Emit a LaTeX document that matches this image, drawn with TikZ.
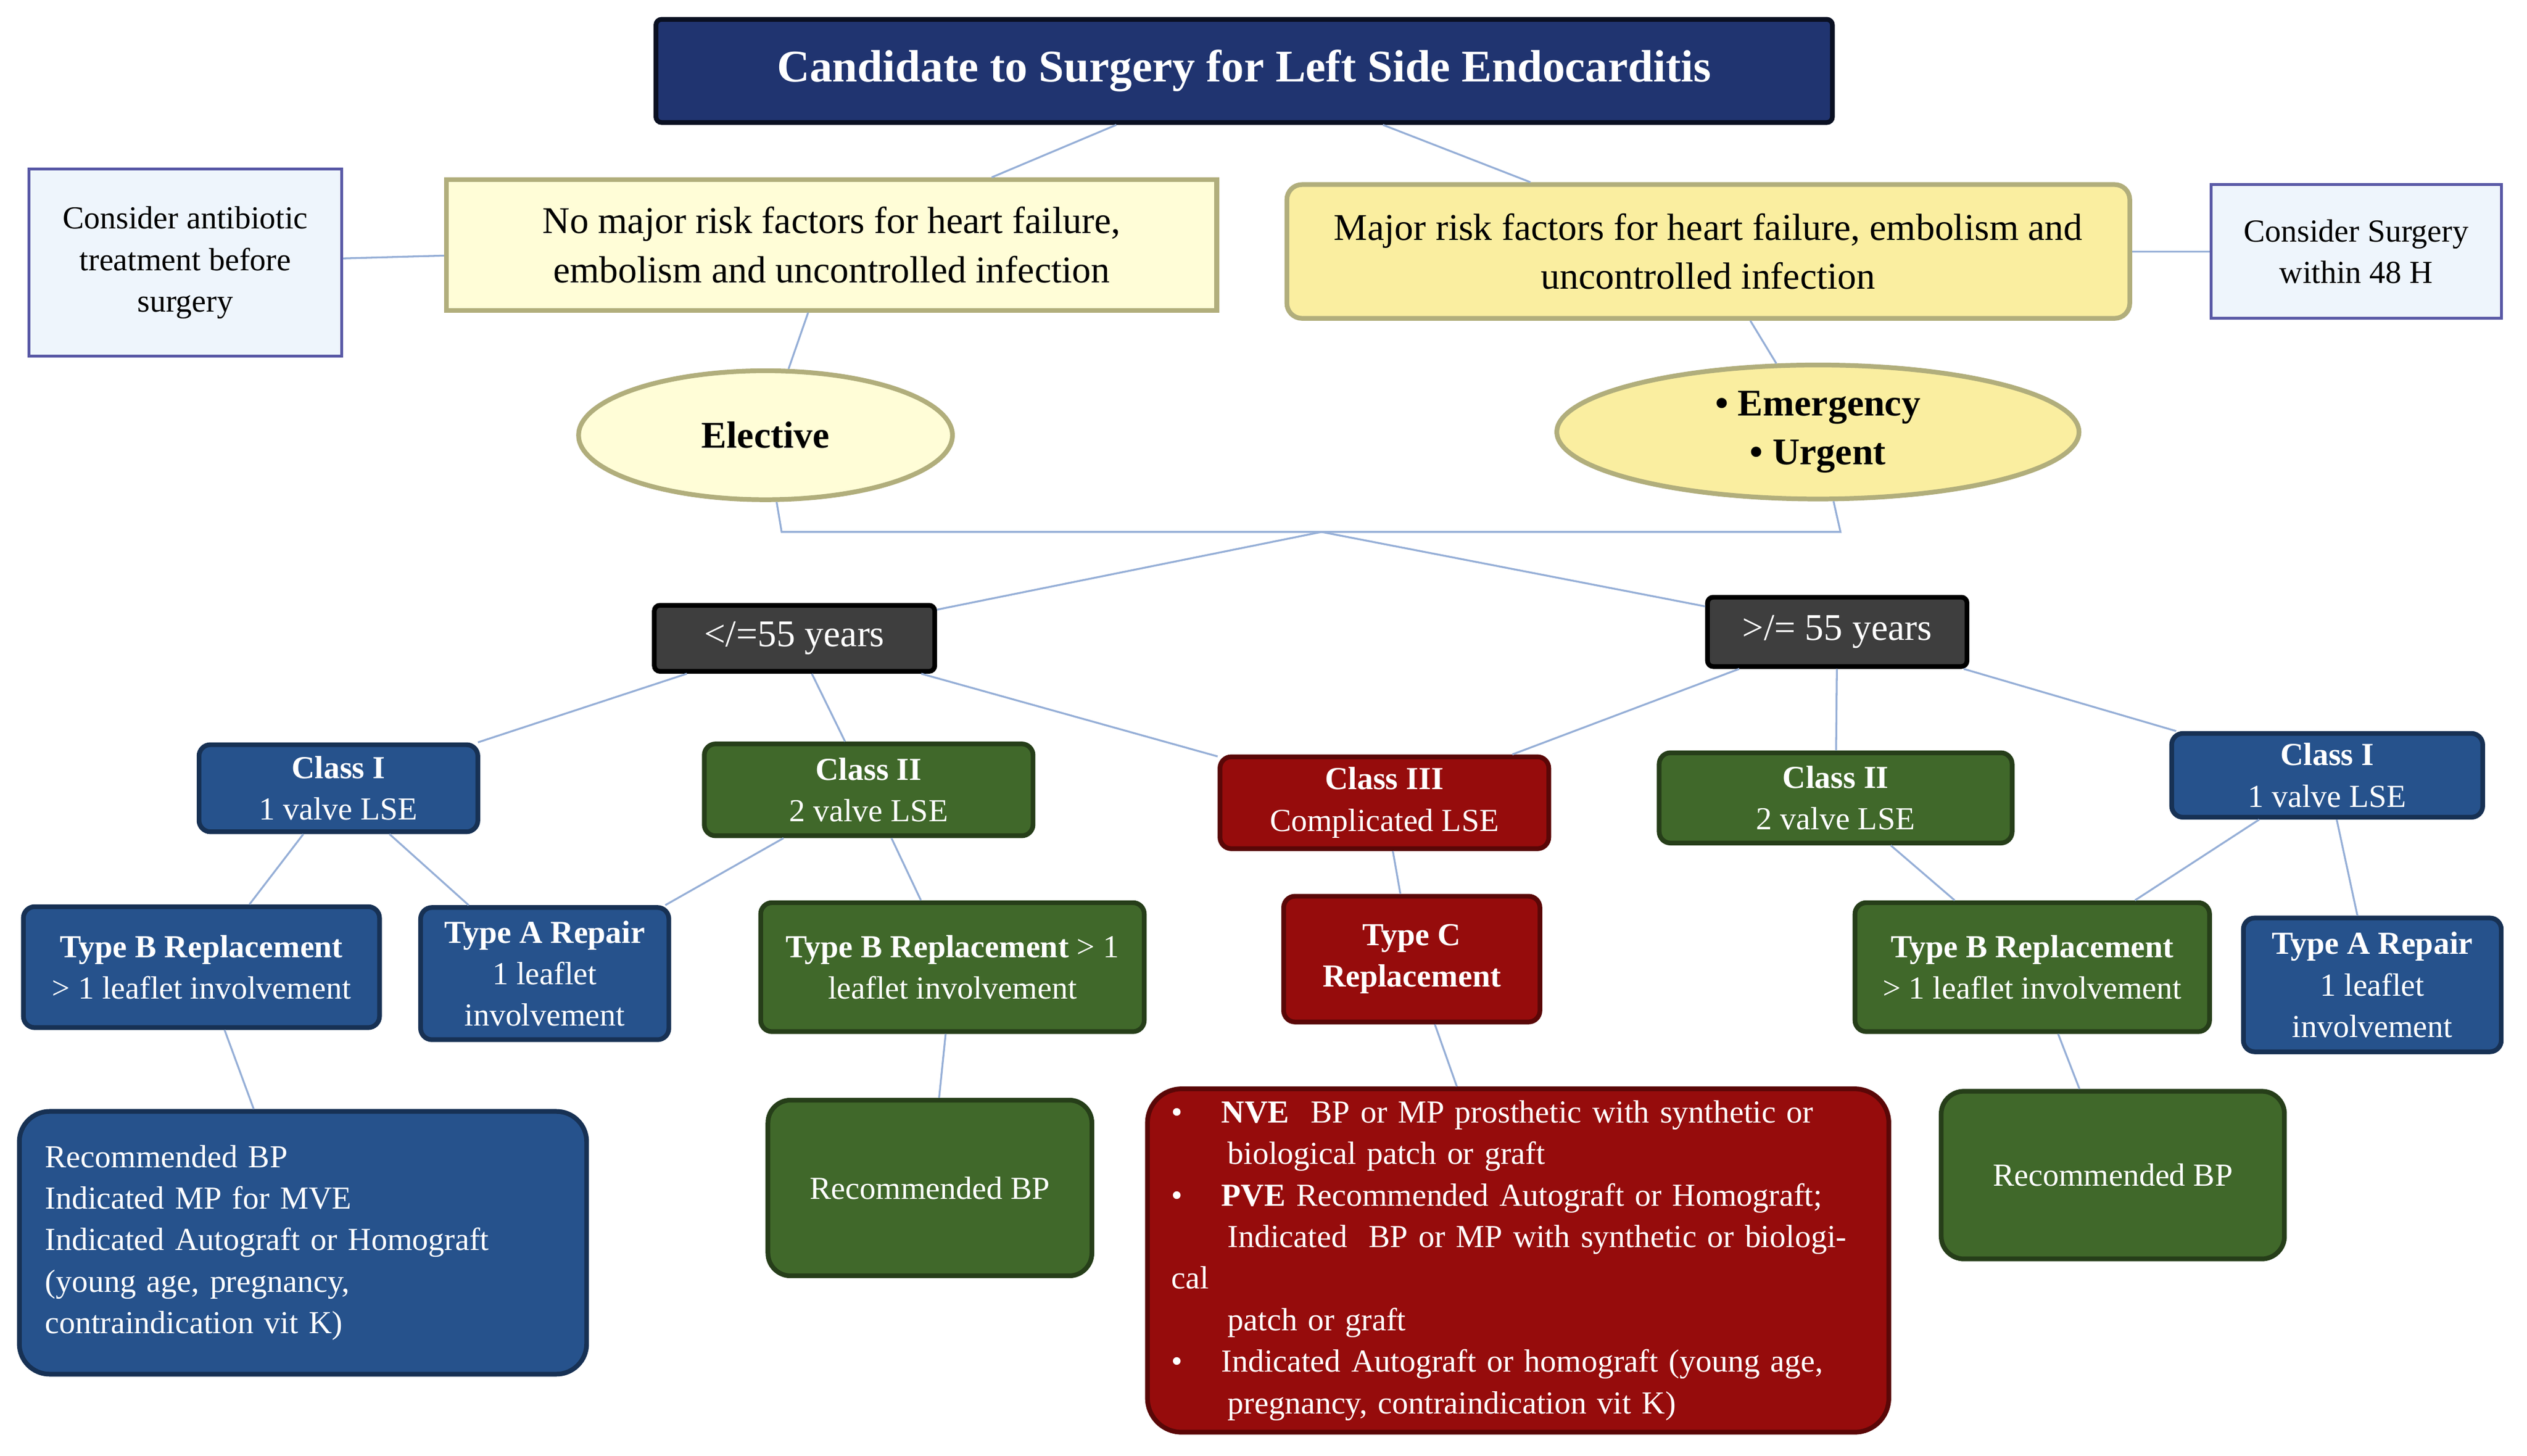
\documentclass[tikz,border=0pt]{standalone}
\usepackage{fontspec}
\setmainfont{Liberation Serif}
\usetikzlibrary{shapes.geometric}
\definecolor{navy}{RGB}{32,52,112}
\definecolor{bbox}{RGB}{38,82,140}
\definecolor{gbox}{RGB}{64,104,42}
\definecolor{rbox}{RGB}{150,12,12}
\definecolor{kbox}{RGB}{62,62,62}
\definecolor{lyel}{RGB}{255,253,215}
\definecolor{dyel}{RGB}{250,238,160}
\definecolor{lblue}{RGB}{238,245,252}
\definecolor{conn}{RGB}{150,175,215}
\begin{document}
\begin{tikzpicture}[x=0.03cm,y=-0.03cm]
\tikzset{box/.style={draw, line width=2.5pt, align=center, inner sep=2pt, text=white}}
\tikzset{blu/.style={box, fill=bbox, draw=bbox!60!black, rounded corners=6pt}}
\tikzset{grn/.style={box, fill=gbox, draw=gbox!60!black, rounded corners=6pt}}
\tikzset{red/.style={box, fill=rbox, draw=rbox!60!black, rounded corners=6pt}}
\tikzset{gry/.style={box, fill=kbox, draw=black, rounded corners=3pt}}
\tikzset{yel/.style={draw=gray!70!yellow, line width=2.5pt, align=center, text=black}}
\tikzset{wht/.style={draw=gray!70!blue, line width=1.5pt, fill=lblue, align=center}}
\tikzset{lnk/.style={draw=conn, line width=1pt}}
\tikzset{big/.style={font=\fontsize{20}{26}\selectfont}}
\tikzset{mid/.style={font=\fontsize{17}{22}\selectfont}}
\useasboundingbox (0,0) rectangle (1568,903);
\node [box, fill=navy, draw=black!70!navy, rounded corners=3pt, minimum width=730*0.03cm, minimum height=64*0.03cm, font=\fontsize{24}{28}\selectfont\bfseries] (title) at (772,44) {Candidate to Surgery for Left Side Endocarditis};
\node [yel, fill=lyel, minimum width=478*0.03cm, minimum height=81*0.03cm, big] (nomaj) at (516,152) {No major risk factors for heart failure,\\ embolism and uncontrolled infection};
\node [yel, fill=dyel, rounded corners=8pt, minimum width=523*0.03cm, minimum height=83*0.03cm, big] (maj) at (1060,156) {Major risk factors for heart failure, embolism and\\ uncontrolled infection};
\node [wht, minimum width=194*0.03cm, minimum height=116*0.03cm, mid] (antib) at (115,163) {Consider antibiotic\\ treatment before\\ surgery};
\node [wht, minimum width=180*0.03cm, minimum height=83*0.03cm, mid] (surg) at (1462,156) {Consider Surgery\\ within 48 H};
\node [ellipse, yel, fill=lyel, minimum width=232*0.03cm, minimum height=80*0.03cm, font=\fontsize{20}{26}\selectfont\bfseries] (elect) at (475,270) {Elective};
\node [ellipse, yel, fill=dyel, minimum width=324*0.03cm, minimum height=78*0.03cm, font=\fontsize{20}{26}\selectfont\bfseries] (emerg) at (1128,268) {\textbullet\ Emergency\\ \textbullet\ Urgent};
\node [gry, minimum width=174*0.03cm, minimum height=41*0.03cm, big] (young) at (493,396) {</=55 years};
\node [gry, minimum width=161*0.03cm, minimum height=43*0.03cm, big] (old) at (1140,392) {>/= 55 years};
\node [blu, minimum width=173*0.03cm, minimum height=54*0.03cm, mid] (clIa) at (210,489) {\textbf{Class I}\\ 1 valve LSE};
\node [grn, minimum width=204*0.03cm, minimum height=57*0.03cm, mid] (clIIa) at (539,490) {\textbf{Class II}\\ 2 valve LSE};
\node [red, minimum width=204*0.03cm, minimum height=57*0.03cm, mid] (clIII) at (859,498) {\textbf{Class III}\\ Complicated LSE};
\node [grn, minimum width=219*0.03cm, minimum height=56*0.03cm, mid] (clIIb) at (1139,495) {\textbf{Class II}\\ 2 valve LSE};
\node [blu, minimum width=193*0.03cm, minimum height=52*0.03cm, mid] (clIb) at (1444,481) {\textbf{Class I}\\ 1 valve LSE};
\node [blu, minimum width=221*0.03cm, minimum height=75*0.03cm, mid] (tBa) at (125,600) {\textbf{Type B Replacement}\\ > 1 leaflet involvement};
\node [blu, minimum width=154*0.03cm, minimum height=82*0.03cm, mid] (tAa) at (338,604) {\textbf{Type A Repair}\\ 1 leaflet\\ involvement};
\node [grn, minimum width=238*0.03cm, minimum height=80*0.03cm, mid] (tBb) at (591,600) {\textbf{Type B Replacement} > 1\\ leaflet involvement};
\node [red, minimum width=159*0.03cm, minimum height=78*0.03cm, font=\fontsize{17}{22}\selectfont\bfseries] (tC) at (876,595) {Type C\\ Replacement};
\node [grn, minimum width=220*0.03cm, minimum height=80*0.03cm, mid] (tBc) at (1261,600) {\textbf{Type B Replacement}\\ > 1 leaflet involvement};
\node [blu, minimum width=160*0.03cm, minimum height=83*0.03cm, mid] (tAb) at (1472,611) {\textbf{Type A Repair}\\ 1 leaflet\\ involvement};
\node [blu, rounded corners=16pt, minimum width=352*0.03cm, minimum height=163*0.03cm, align=left, text width=320*0.03cm, mid] (recA) at (188,771) {Recommended BP\\ Indicated MP for MVE\\ Indicated Autograft or Homograft\\ (young age, pregnancy,\\ contraindication vit K)};
\node [grn, rounded corners=12pt, minimum width=201*0.03cm, minimum height=109*0.03cm, mid] (recB) at (577,737) {Recommended BP};
\node [red, rounded corners=18pt, minimum width=460*0.03cm, minimum height=213*0.03cm, align=left, text width=430*0.03cm, mid] (recC) at (942,782) {\textbullet\hspace{1.2em}\textbf{NVE}\ \ BP or MP prosthetic with synthetic or\\ \hspace*{1.75em}biological patch or graft\\ \textbullet\hspace{1.2em}\textbf{PVE} Recommended Autograft or Homograft;\\ \hspace*{1.75em}Indicated\ \ BP or MP with synthetic or biological\\ \hspace*{1.75em}patch or graft\\ \textbullet\hspace{1.2em}Indicated Autograft or homograft (young age,\\ \hspace*{1.75em}pregnancy, contraindication vit K)};
\node [grn, rounded corners=12pt, minimum width=213*0.03cm, minimum height=104*0.03cm, mid] (recD) at (1311,729) {Recommended BP};
\coordinate (bl) at (485,330);
\coordinate (br) at (1142,330);
\coordinate (bm) at (820,330);

\foreach \from/\to in {title/nomaj,title/maj,antib/nomaj,maj/surg,nomaj/elect,maj/emerg,bm/young,bm/old,young/clIa,young/clIIa,young/clIII,old/clIII,old/clIIb,old/clIb,clIa/tBa,clIa/tAa,clIIa/tAa,clIIa/tBb,clIII/tC,clIIb/tBc,clIb/tBc,clIb/tAb,tBa/recA,tBb/recB,tC/recC,tBc/recD}
	\draw [lnk] (\from) -- (\to);
\draw [lnk] (elect) -- (bl) -- (br) -- (emerg);
\end{tikzpicture}
\end{document}
